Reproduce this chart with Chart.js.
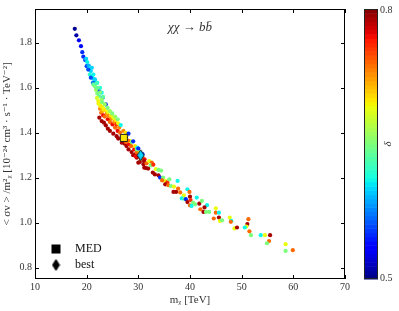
<!DOCTYPE html>
<html>
<head>
<meta charset="utf-8">
<script src="https://cdn.jsdelivr.net/npm/chart.js@4/dist/chart.umd.min.js"></script>
<style>
  html, body { margin: 0; padding: 0; background: #fff; }
</style>
</head>
<body>
<canvas id="chart" width="399" height="311"></canvas>
<script>
/* ---------- data ---------- */
const massTeV = [
  17.7, 18.0, 18.5, 18.9, 19.15, 19.35, 19.7, 20.0,
  19.9, 20.1, 20.4, 20.5, 20.8, 21.0, 20.6, 21.0, 21.3,
  20.3, 20.8, 21.2, 21.6, 21.9, 22.4, 23.1, 23.7,
  21.3, 21.6, 22.05, 22.6, 22.9,
  21.3, 21.6, 21.8, 22.05, 22.4, 22.9, 21.9, 22.2, 22.6, 23.2,
  22.25, 22.6, 23.1, 22.0, 22.3,
  22.45, 22.9, 23.35, 23.7, 24.1, 24.5, 25.15, 25.8, 26.1, 26.8, 27.3, 27.7, 28.1, 28.7, 29.0, 29.4, 29.7, 30.0, 30.3, 31.0, 31.15,
  22.8, 23.2, 23.5, 24.1, 24.5, 25.0, 25.5, 26.0, 26.45, 26.8, 27.6, 28.2, 28.6, 29.2, 29.7, 30.8, 31.2,
  22.6, 23.0, 23.9, 24.3, 24.8, 25.35, 25.8, 26.3, 27.1, 27.55,
  22.45, 22.8, 23.3, 23.5, 24.1, 24.7, 25.15, 25.6, 26.1, 27.7, 28.4, 29.35, 30.3,
  23.0, 23.5, 24.05, 24.5, 24.95, 25.5, 26.0, 28.7, 29.7,
  26.6, 29.8,
  28.1, 29.0, 30.0, 30.8,
  27.0, 28.0, 29.5, 30.5,
  31.1, 31.6, 32.1, 32.6, 31.5, 31.9, 32.4, 32.9, 33.4, 33.9, 34.4, 32.8, 33.2, 33.9,
  34.2, 34.8, 35.2, 34.6, 35.6, 36.0, 37.6, 35.2, 35.8, 36.3, 36.9, 37.7, 39.5,
  36.8, 37.3, 38.1, 38.8, 39.9, 40.0, 38.4, 39.0, 39.2, 39.5, 40.1, 40.6, 41.3,
  40.0, 40.3, 41.0, 41.8, 42.3, 43.3, 42.6, 43.1, 43.7, 42.8, 42.0,
  45.0, 44.6, 45.0, 45.6, 45.6, 45.8, 46.2, 47.7, 48.0, 47.9,
  51.3, 51.1, 50.9, 50.6, 51.5, 51.8, 48.6, 49.1,
  53.7, 54.5, 55.5, 55.3, 54.9, 58.5, 58.5, 59.9
];
const sigmaV = [
  1.862, 1.833, 1.811, 1.785, 1.758, 1.738, 1.723, 1.696,
  1.729, 1.714, 1.699, 1.685, 1.674, 1.689, 1.659, 1.649, 1.640,
  1.681, 1.645, 1.622, 1.625, 1.600, 1.585, 1.556, 1.526,
  1.659, 1.637, 1.622, 1.600, 1.578,
  1.615, 1.607, 1.590, 1.575, 1.563, 1.548, 1.620, 1.600, 1.580, 1.560,
  1.541, 1.522, 1.511, 1.555, 1.530,
  1.467, 1.452, 1.445, 1.433, 1.418, 1.408, 1.396, 1.385, 1.374, 1.356, 1.352, 1.341, 1.326, 1.314, 1.300, 1.304, 1.289, 1.267, 1.270, 1.260, 1.245,
  1.489, 1.477, 1.472, 1.460, 1.448, 1.437, 1.423, 1.408, 1.401, 1.385, 1.359, 1.349, 1.341, 1.326, 1.312, 1.289, 1.282,
  1.507, 1.496, 1.486, 1.474, 1.463, 1.448, 1.437, 1.423, 1.408, 1.400,
  1.526, 1.516, 1.505, 1.501, 1.492, 1.477, 1.467, 1.456, 1.442, 1.385, 1.363, 1.341, 1.312,
  1.536, 1.526, 1.511, 1.496, 1.486, 1.472, 1.460, 1.359, 1.326,
  1.434, 1.334,
  1.396, 1.362, 1.330, 1.305,
  1.375, 1.365, 1.295, 1.285,
  1.274, 1.264, 1.274, 1.267, 1.243, 1.241, 1.255, 1.258, 1.238, 1.235, 1.232, 1.223, 1.215, 1.211,
  1.201, 1.201, 1.186, 1.188, 1.180, 1.193, 1.186, 1.171, 1.167, 1.163, 1.161, 1.152, 1.149,
  1.137, 1.137, 1.135, 1.122, 1.137, 1.116, 1.108, 1.105, 1.105, 1.092, 1.101, 1.090, 1.112,
  1.077, 1.075, 1.082, 1.085, 1.097, 1.078, 1.048, 1.048, 1.048, 1.068, 1.060,
  1.064, 1.019, 1.045, 1.045, 1.023, 1.008, 1.011, 1.023, 1.008, 1.004,
  1.016, 0.994, 0.983, 0.979, 0.962, 0.945, 0.975, 0.979,
  0.945, 0.945, 0.945, 0.919, 0.909, 0.905, 0.875, 0.878
];
const delta = [
  0.505, 0.51, 0.53, 0.54, 0.55, 0.55, 0.56, 0.56,
  0.60, 0.61, 0.59, 0.61, 0.60, 0.60, 0.62, 0.61, 0.60,
  0.56, 0.56, 0.57, 0.56, 0.56, 0.55, 0.56, 0.55,
  0.61, 0.60, 0.61, 0.62, 0.61,
  0.64, 0.65, 0.66, 0.65, 0.64, 0.66, 0.63, 0.64, 0.65, 0.64,
  0.69, 0.70, 0.69, 0.68, 0.70,
  0.79, 0.79, 0.79, 0.79, 0.79, 0.79, 0.79, 0.79, 0.79, 0.79, 0.79, 0.79, 0.79, 0.79, 0.79, 0.79, 0.79, 0.79, 0.79, 0.79, 0.79,
  0.74, 0.77, 0.74, 0.77, 0.74, 0.77, 0.74, 0.77, 0.74, 0.77, 0.74, 0.77, 0.74, 0.77, 0.74, 0.74, 0.77,
  0.73, 0.72, 0.73, 0.73, 0.73, 0.73, 0.76, 0.73, 0.73, 0.70,
  0.69, 0.70, 0.69, 0.70, 0.69, 0.70, 0.69, 0.70, 0.69, 0.70, 0.69, 0.70, 0.69,
  0.65, 0.66, 0.65, 0.66, 0.65, 0.66, 0.65, 0.65, 0.65,
  0.61, 0.61,
  0.55, 0.55, 0.55, 0.55,
  0.77, 0.74, 0.77, 0.74,
  0.79, 0.74, 0.69, 0.74, 0.79, 0.79, 0.65, 0.76, 0.69, 0.65, 0.65, 0.79, 0.79, 0.79,
  0.55, 0.65, 0.69, 0.74, 0.76, 0.65, 0.61, 0.79, 0.74, 0.65, 0.69, 0.74, 0.61,
  0.79, 0.79, 0.74, 0.69, 0.74, 0.79, 0.61, 0.65, 0.55, 0.79, 0.76, 0.65, 0.61,
  0.74, 0.61, 0.65, 0.79, 0.65, 0.61, 0.79, 0.65, 0.65, 0.79, 0.74,
  0.69, 0.74, 0.74, 0.61, 0.79, 0.69, 0.65, 0.69, 0.61, 0.74,
  0.74, 0.79, 0.69, 0.61, 0.74, 0.65, 0.69, 0.79,
  0.61, 0.69, 0.79, 0.74, 0.65, 0.69, 0.65, 0.74
];
const medPoint  = { x: 27.2,  y: 1.377, delta: 0.70 };
const bestPoint = { x: 30.45, y: 1.300, delta: 0.60 };
const xTicks = [10, 20, 30, 40, 50, 60, 70];
const yTicks = [0.8, 1.0, 1.2, 1.4, 1.6, 1.8];
const deltaRange = [0.5, 0.8];

/* ---------- matplotlib "jet" ---------- */
function seg(pts, t) {
  for (let i = 1; i < pts.length; i++) {
    if (t <= pts[i][0]) {
      const [x0, y0] = pts[i - 1], [x1, y1] = pts[i];
      return y0 + (y1 - y0) * (t - x0) / (x1 - x0);
    }
  }
  return pts[pts.length - 1][1];
}
function jet(t) {
  t = Math.min(1, Math.max(0, t));
  const r = seg([[0, 0], [0.35, 0], [0.66, 1], [0.89, 1], [1, 0.5]], t);
  const g = seg([[0, 0], [0.125, 0], [0.375, 1], [0.64, 1], [0.91, 0], [1, 0]], t);
  const b = seg([[0, 0.5], [0.11, 1], [0.34, 1], [0.65, 0], [1, 0]], t);
  return `rgb(${Math.round(r * 255)},${Math.round(g * 255)},${Math.round(b * 255)})`;
}
const deltaColor = d => jet((d - deltaRange[0]) / (deltaRange[1] - deltaRange[0]));

/* thin diamond marker (matplotlib 'd') */
function diamond(fill, w, h) {
  const c = document.createElement('canvas');
  c.width = w + 2; c.height = h + 2;
  const g = c.getContext('2d');
  g.beginPath();
  g.moveTo(c.width / 2, 1);
  g.lineTo(c.width - 1, c.height / 2);
  g.lineTo(c.width / 2, c.height - 1);
  g.lineTo(1, c.height / 2);
  g.closePath();
  g.fillStyle = fill; g.fill();
  g.strokeStyle = '#111'; g.lineWidth = 1; g.stroke();
  return c;
}

const SERIF = '"Liberation Serif", "DejaVu Serif", serif';

/* ---------- frame, ticks, colorbar, title, legend ---------- */
const decor = {
  id: 'decor',
  afterDraw(chart) {
    const { ctx, chartArea: a, scales: { x, y } } = chart;
    ctx.save();
    ctx.strokeStyle = '#000';
    ctx.lineWidth = 1;
    ctx.beginPath();
    xTicks.forEach(v => {
      const px = Math.round(x.getPixelForValue(v)) + 0.5;
      ctx.moveTo(px, a.bottom); ctx.lineTo(px, a.bottom - 4);
      ctx.moveTo(px, a.top); ctx.lineTo(px, a.top + 4);
    });
    yTicks.forEach(v => {
      const py = Math.round(y.getPixelForValue(v)) + 0.5;
      ctx.moveTo(a.left, py); ctx.lineTo(a.left + 4, py);
      ctx.moveTo(a.right, py); ctx.lineTo(a.right - 4, py);
    });
    ctx.stroke();
    ctx.strokeRect(a.left + 0.5, a.top + 0.5, a.right - a.left - 1, a.bottom - a.top - 1);

    // colorbar
    const cbL = a.right + 19, cbW = 14, cbT = a.top, cbB = a.bottom, n = 64;
    const step = (cbB - cbT) / n;
    for (let i = 0; i < n; i++) {
      ctx.fillStyle = jet((i + 0.5) / n);
      ctx.fillRect(cbL, cbB - (i + 1) * step, cbW, step + 0.5);
    }
    ctx.strokeStyle = '#222';
    ctx.strokeRect(cbL + 0.5, cbT + 0.5, cbW - 1, cbB - cbT - 1);
    ctx.fillStyle = '#333';
    ctx.font = `10px ${SERIF}`;
    ctx.textAlign = 'left';
    ctx.textBaseline = 'middle';
    ctx.fillText(deltaRange[1].toFixed(1), cbL + cbW + 2, cbT + 1);
    ctx.fillText(deltaRange[0].toFixed(1), cbL + cbW + 2, cbB - 1);
    ctx.save();
    ctx.translate(cbL + cbW + 10, (cbT + cbB) / 2);
    ctx.rotate(-Math.PI / 2);
    ctx.textAlign = 'center';
    ctx.font = `italic 11px ${SERIF}`;
    ctx.fillText('δ', 0, 0);
    ctx.restore();

    // title inside the axes
    ctx.fillStyle = '#333';
    ctx.font = `italic 13px ${SERIF}`;
    ctx.textAlign = 'center';
    ctx.fillText('χχ → bb̄', (a.left + a.right) / 2, a.top + 19);

    // legend (lower left)
    const lx = a.left + 21;
    const rows = [chart.data.datasets[1], chart.data.datasets[2]];
    ctx.fillStyle = '#000';
    ctx.fillRect(lx - 4.5, 244.5, 9, 9);
    ctx.drawImage(diamond('#000', 7, 11), lx - 4.5, 258.5);
    ctx.fillStyle = '#111';
    ctx.font = `12px ${SERIF}`;
    ctx.textAlign = 'left';
    ctx.fillText(rows[0].label, lx + 19, 249);
    ctx.fillText(rows[1].label, lx + 19, 265);
    ctx.restore();
  }
};

const points = massTeV.map((m, i) => ({ x: m, y: sigmaV[i] }));

new Chart(document.getElementById('chart'), {
  type: 'scatter',
  data: {
    datasets: [
      {
        label: 'scan',
        data: points,
        pointRadius: 2.1,
        pointHoverRadius: 2.1,
        pointBorderWidth: 0,
        pointBackgroundColor: delta.map(deltaColor),
        order: 2
      },
      {
        label: 'MED',
        data: [medPoint],
        pointStyle: 'rect',
        pointRadius: 5,
        pointBackgroundColor: deltaColor(medPoint.delta),
        pointBorderColor: '#222',
        pointBorderWidth: 1,
        order: 1
      },
      {
        label: 'best',
        data: [bestPoint],
        pointStyle: diamond(deltaColor(bestPoint.delta), 7, 11),
        order: 0
      }
    ]
  },
  options: {
    responsive: false,
    animation: false,
    layout: { padding: { top: 9, right: 54, left: 0, bottom: 0 } },
    plugins: { legend: { display: false }, tooltip: { enabled: false } },
    scales: {
      x: {
        type: 'linear',
        min: 10, max: 70,
        afterBuildTicks: s => { s.ticks = xTicks.map(v => ({ value: v })); },
        afterFit: s => { s.height = 32; },
        grid: { display: false, drawTicks: false },
        border: { display: false },
        ticks: { padding: 2, color: '#333', font: { family: SERIF, size: 10 }, callback: v => String(v) },
        title: {
          display: true, text: 'mᵪ [TeV]', color: '#333',
          font: { family: SERIF, size: 11 }, padding: { top: 0, bottom: 4 }
        }
      },
      y: {
        type: 'linear',
        min: 0.75, max: 1.95,
        afterBuildTicks: s => { s.ticks = yTicks.map(v => ({ value: v })); },
        afterFit: s => { s.width = 35; },
        grid: { display: false, drawTicks: false },
        border: { display: false },
        ticks: { padding: 3, color: '#333', font: { family: SERIF, size: 10 }, callback: v => Number(v).toFixed(1) },
        title: {
          display: true, text: '< σv > /m²ᵪ [10⁻²⁴ cm³ · s⁻¹ · TeV⁻²]', color: '#333',
          font: { family: SERIF, size: 11 }, padding: { top: 1, bottom: 0 }
        }
      }
    }
  },
  plugins: [decor]
});
</script>
</body>
</html>
